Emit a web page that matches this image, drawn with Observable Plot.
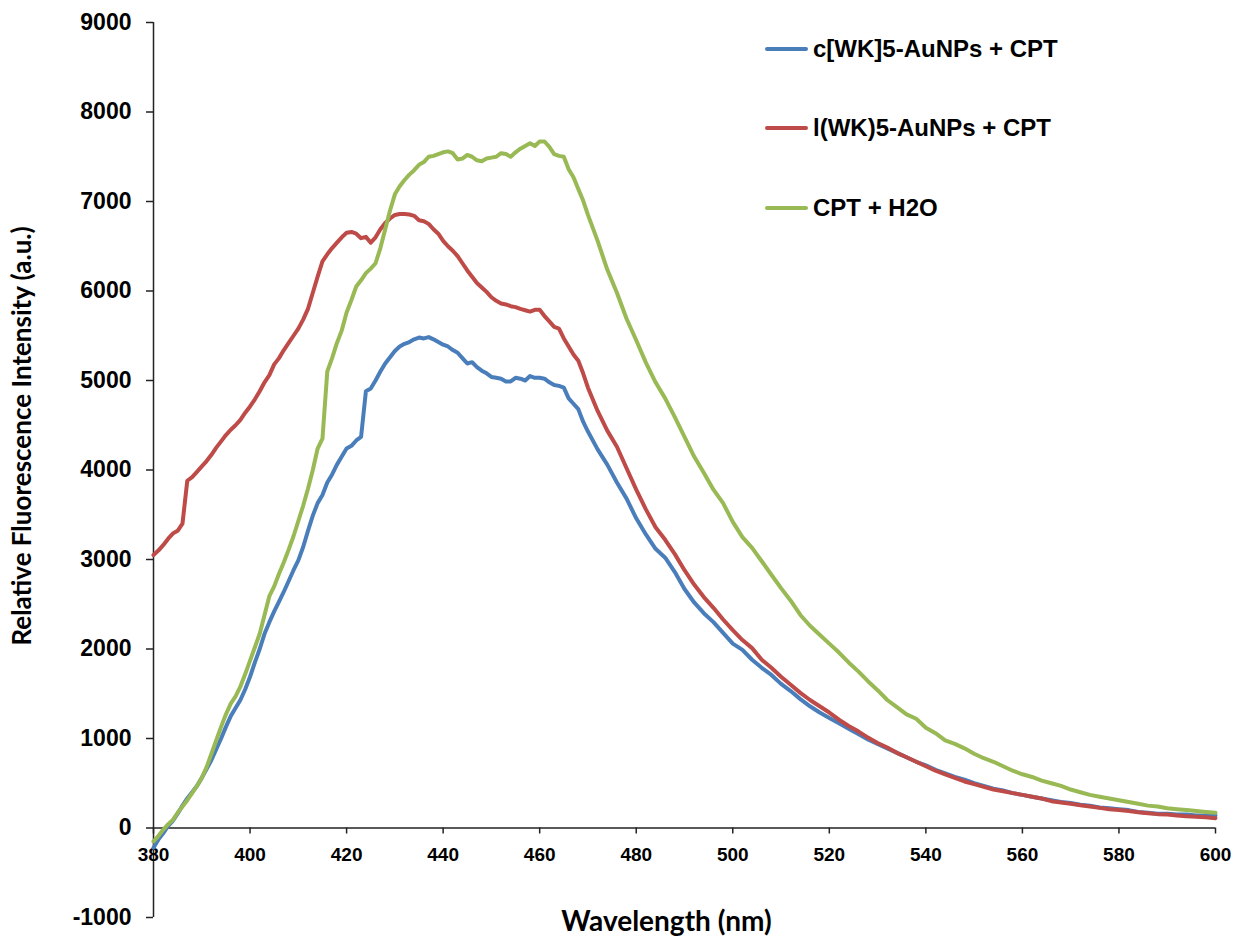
<!DOCTYPE html>
<html><head><meta charset="utf-8">
<script src="https://cdn.jsdelivr.net/npm/d3@7"></script>
<script src="https://cdn.jsdelivr.net/npm/@observablehq/plot@0.6"></script>
<style>
body{margin:0;background:#fff;}
#wrap{position:relative;width:1239px;height:940px;}
#legend{position:absolute;left:765px;top:0;font-family:"Liberation Sans",Arial,sans-serif;font-weight:bold;font-size:24px;color:#000;}
.item{position:absolute;left:0;height:28px;line-height:28px;display:flex;align-items:center;white-space:nowrap;}
.sw{width:43px;height:4px;border-radius:2px;margin-right:5px;}
</style></head>
<body><div id="wrap"><div id="chart"></div><div id="legend"></div></div>
<script>
const wavelength = [
380,381,382,383,384,385,386,387,388,389,390,391,392,393,394,395,396,397,398,399,
400,401,402,403,404,405,406,407,408,409,410,411,412,413,414,415,416,417,418,419,
420,421,422,423,424,425,426,427,428,429,430,431,432,433,434,435,436,437,438,439,
440,441,442,443,444,445,446,447,448,449,450,451,452,453,454,455,456,457,458,459,
460,461,462,463,464,465,466,467,468,469,470,
472,474,476,478,480,482,484,486,488,490,492,494,496,498,500,502,504,506,508,510,
512,514,516,518,520,522,524,526,528,530,532,534,536,538,540,542,544,546,548,550,
552,554,556,558,560,562,564,566,568,570,572,574,576,578,580,582,584,586,588,590,
592,594,596,598,600];
const cWK5 = [
-220,-130,-60,20,80,160,250,330,400,470,560,660,760,880,1000,1130,1250,1340,1430,1550,
1690,1850,2000,2170,2300,2420,2530,2640,2760,2880,2990,3140,3320,3490,3630,3720,3860,3950,4060,4150,
4240,4270,4330,4370,4880,4910,5000,5100,5190,5260,5330,5380,5410,5430,5460,5480,5470,5485,5460,5430,
5400,5380,5340,5310,5250,5190,5205,5150,5110,5080,5040,5030,5020,4990,4990,5030,5020,5000,5050,5030,
5030,5020,4980,4950,4940,4920,4800,4740,4680,4540,4430,
4230,4060,3860,3680,3460,3280,3120,3020,2860,2670,2520,2400,2300,2180,2060,1990,1880,1790,1710,1610,
1530,1440,1360,1290,1230,1170,1110,1050,990,940,890,840,790,740,700,650,610,570,540,500,
470,440,420,390,370,350,330,310,290,280,260,250,230,220,210,200,180,170,160,160,
150,150,140,140,140];
const lWK5 = [
3050,3100,3160,3230,3290,3320,3400,3880,3920,3980,4040,4100,4170,4250,4320,4390,4450,4500,4560,4640,
4710,4790,4880,4980,5060,5180,5250,5340,5420,5500,5580,5680,5800,5980,6160,6330,6410,6480,6540,6600,
6650,6660,6640,6590,6605,6540,6600,6690,6760,6810,6850,6860,6860,6855,6840,6790,6780,6750,6690,6640,
6560,6500,6450,6390,6310,6230,6160,6090,6040,5990,5930,5890,5860,5850,5830,5820,5800,5785,5770,5790,
5790,5720,5660,5600,5580,5470,5380,5290,5220,5080,4920,
4660,4440,4260,4020,3780,3560,3360,3220,3060,2880,2720,2580,2460,2330,2210,2100,2010,1880,1790,1690,
1600,1510,1430,1360,1290,1210,1140,1080,1010,950,900,840,790,740,690,640,600,560,520,490,
460,430,410,390,370,350,330,300,285,270,255,240,225,210,200,190,175,165,155,150,
140,130,125,120,110];
const cptH2O = [
-150,-90,-20,40,90,170,240,310,390,470,560,680,830,980,1130,1270,1390,1470,1580,1720,
1870,2020,2170,2380,2590,2700,2840,2970,3110,3260,3430,3600,3790,4000,4240,4350,5100,5250,5420,5560,
5760,5900,6050,6120,6200,6250,6310,6480,6690,6900,7080,7170,7240,7300,7350,7410,7440,7500,7510,7530,
7550,7560,7540,7470,7480,7520,7500,7460,7450,7480,7490,7500,7540,7530,7500,7550,7590,7620,7650,7620,
7670,7670,7610,7530,7510,7500,7360,7270,7140,7010,6850,
6560,6240,5980,5690,5450,5200,4980,4800,4590,4370,4150,3970,3780,3630,3420,3250,3130,2980,2830,2680,
2540,2380,2260,2160,2060,1960,1850,1750,1640,1540,1430,1350,1270,1220,1120,1060,980,940,890,830,
780,740,690,640,600,570,530,500,470,430,400,370,350,330,310,290,270,250,240,220,
210,200,190,180,170];
const seriesNames = ["c[WK]5-AuNPs + CPT", "l(WK)5-AuNPs + CPT", "CPT + H2O"];
const seriesColors = ["#4A7EBB", "#BE4B48", "#98B954"];
const xTicks = [380,400,420,440,460,480,500,520,540,560,580,600];
const yTicks = [-1000,0,1000,2000,3000,4000,5000,6000,7000,8000,9000];
const xTitle = "Wavelength (nm)";
const yTitle = "Relative Fluorescence Intensity (a.u.)";

const seriesValues = [cWK5, lWK5, cptH2O];
const rows = seriesValues.flatMap((vals, k) => wavelength.map((w, i) => ({w, v: vals[i], s: seriesNames[k]})));

const axisColor = "#222";
const chart = Plot.plot({
  width: 1239, height: 940,
  marginLeft: 153, marginRight: 24, marginTop: 22, marginBottom: 23,
  x: {domain: [380, 600], axis: null},
  y: {domain: [-1000, 9000], axis: null},
  color: {domain: seriesNames, range: seriesColors},
  style: {fontFamily: "'Liberation Sans', Arial, sans-serif", background: "white", color: "#000"},
  marks: [
    Plot.ruleX([380], {stroke: axisColor, strokeWidth: 1.5}),
    Plot.axisY(yTicks, {tickSize: 7, tickPadding: 15, fontSize: 23, fontWeight: "bold", stroke: axisColor, strokeWidth: 1.5, tickFormat: d => String(d), label: null}),
    Plot.ruleY([0], {stroke: axisColor, strokeWidth: 1.5}),
    Plot.ruleX(xTicks, {x: d => d, y1: 0, y2: 0, insetBottom: -6, stroke: axisColor, strokeWidth: 1.5}),
    Plot.text(xTicks, {x: d => d, y: 0, dy: 27, text: d => String(d), fontSize: 19, fontWeight: "bold", fill: "#000"}),
    Plot.text([yTitle], {frameAnchor: "left", textAnchor: "middle", lineAnchor: "middle", rotate: -90, dx: -131, dy: -34, fontSize: 26, fontWeight: "bold", fontFamily: "Lato", fill: "#000"}),
    Plot.text([xTitle], {frameAnchor: "bottom", textAnchor: "middle", lineAnchor: "middle", dx: -18, dy: 5, fontSize: 28, fontWeight: "bold", fontFamily: "Lato", fill: "#000"}),
    Plot.line(rows, {x: "w", y: "v", z: "s", stroke: "s", strokeWidth: 4, strokeLinejoin: "round", strokeLinecap: "round"})
  ]
});
document.getElementById("chart").appendChild(chart);

const legendY = [49, 128, 208];
const legend = document.getElementById("legend");
seriesNames.forEach((name, k) => {
  const item = document.createElement("div");
  item.className = "item";
  item.style.top = (legendY[k] - 14) + "px";
  const sw = document.createElement("div");
  sw.className = "sw";
  sw.style.background = seriesColors[k];
  const t = document.createElement("span");
  t.textContent = name;
  item.appendChild(sw); item.appendChild(t);
  legend.appendChild(item);
});
</script>
</body></html>
